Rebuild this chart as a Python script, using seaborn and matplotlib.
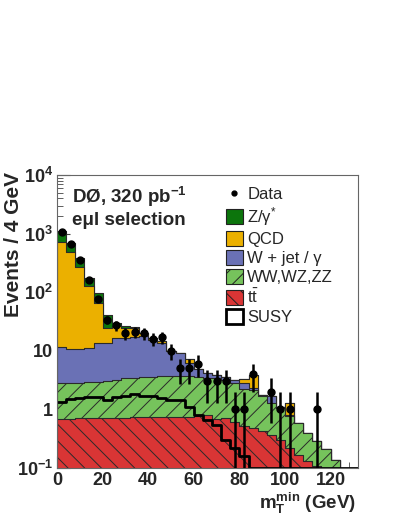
import numpy as np
import pandas as pd
import matplotlib
matplotlib.use('Agg')
import matplotlib.pyplot as plt
import seaborn as sns
from matplotlib.patches import Patch
from matplotlib.lines import Line2D
from matplotlib.ticker import FixedLocator, FixedFormatter, LogLocator, MultipleLocator, NullFormatter

# 4 GeV bins from 0 to 132 GeV
bin_edges = list(range(0, 136, 4))
centers = np.arange(2, 132, 4)

# background contributions per bin (events / 4 GeV)
ttbar = [0.68, 0.68, 0.70, 0.70, 0.70, 0.71, 0.72, 0.72, 0.73, 0.74, 0.75,
         0.75, 0.75, 0.75, 0.75, 0.76, 0.79, 0.68, 0.70, 0.62, 0.53, 0.48,
         0.43, 0.37, 0.30, 0.22, 0.17, 0.13, 0.11, 0.09, 0.07, 0.0, 0.0]
diboson = [2.12, 2.12, 2.15, 2.20, 2.27, 2.39, 2.46, 2.68, 2.77, 2.86, 2.85,
           2.95, 2.90, 2.90, 2.90, 2.84, 2.66, 2.72, 2.50, 2.24, 1.72, 1.66,
           1.29, 0.93, 0.75, 0.55, 0.41, 0.27, 0.18, 0.12, 0.065, 0.0, 0.0]
wjet = [8.9, 7.8, 8.05, 8.4, 10.4, 10.6, 13.1, 13.3, 13.9, 14.1, 11.4,
        10.0, 6.35, 5.45, 2.65, 1.3, 0.75, 0.5, 0.4, 0.29, 0.55, 0.16,
        0.06, 0.37, 0.03, 0.02, 0, 0, 0, 0, 0, 0, 0]
qcd = [708, 479, 261, 118, 52.6, 10.8, 10.2, 8.1, 6.9, 2.2, 1.5,
       1.2, 0, 0, 0.9, 0, 0, 0, 0, 0, 0.5, 1.6,
       0, 0, 0, 0.48, 0, 0, 0, 0, 0, 0, 0]
zgamma = [380, 190, 113, 43, 30, 16.5, 2.9, 2.0, 1.4, 0.4, 0.2,
          0, 0, 0, 0, 0, 0, 0, 0, 0, 0, 0,
          0, 0, 0, 0, 0, 0, 0, 0, 0, 0, 0]
susy = [1.33, 1.50, 1.55, 1.60, 1.60, 1.45, 1.60, 1.70, 1.80, 1.72, 1.66,
        1.58, 1.42, 1.42, 1.11, 0.80, 0.66, 0.54, 0.30, 0.22, 0.16, 0.1,
        0.1, 0.1, 0.1, 0.1, 0.1, 0.1, 0.1, 0.1, 0.1, 0.1, 0.1]
data = [1070, 660, 360, 160, 76, 34, 27, 20, 21, 20, 16,
        17, 10, 5, 5, 6, 3, 3, 3, 1, 1, 4,
        0, 2, 1, 1, 0, 0, 1, 0, 0, 0, 0]

layer_colors = ['#d93535', '#76c35c', '#6a71b5', '#ebb000', '#0c750c']
layer_hatches = ['\\\\', '//', '', '', '']

sns.set_theme(style='white')
plt.rcParams['font.family'] = ['Liberation Sans', 'DejaVu Sans']
plt.rcParams['mathtext.fontset'] = 'custom'
plt.rcParams['mathtext.rm'] = 'Liberation Sans'
plt.rcParams['mathtext.it'] = 'Liberation Sans:italic'
plt.rcParams['mathtext.bf'] = 'Liberation Sans:bold'
plt.rcParams['hatch.color'] = '#222222'
plt.rcParams['hatch.linewidth'] = 0.7

fig, ax = plt.subplots(figsize=(3.99, 5.16), dpi=100)
fig.subplots_adjust(left=0.143, right=0.897, bottom=0.093, top=0.661)
ax.set_yscale('log')

# stacked backgrounds: draw cumulative sums from the top layer down
stack = np.cumsum(np.array([ttbar, diboson, wjet, qcd, zgamma]), axis=0)
df = pd.DataFrame({'mt': centers})
for i in range(4, -1, -1):
    df['w'] = stack[i]
    sns.histplot(data=df, x='mt', weights='w', bins=bin_edges, element='step',
                 fill=True, color=layer_colors[i], alpha=1, edgecolor='#2a2a2a',
                 linewidth=0.8, ax=ax)
    if layer_hatches[i]:
        ax.collections[-1].set_hatch(layer_hatches[i])

# SUSY signal as an open histogram
df_s = pd.DataFrame({'mt': centers, 'w': susy})
sns.histplot(data=df_s, x='mt', weights='w', bins=bin_edges, element='step',
             fill=False, color='black', linewidth=2, ax=ax)

# data points
data = np.array(data, dtype=float)
has = data > 0
ax.errorbar(centers[has], data[has], yerr=np.sqrt(data[has]), fmt='o',
            color='black', ms=5, elinewidth=1.8, capsize=0, zorder=5)

ax.set_xlim(0, 132)
ax.set_ylim(0.1, 1e4)

# axes styling
ax.xaxis.set_major_locator(MultipleLocator(20))
ax.xaxis.set_minor_locator(MultipleLocator(4))
ax.yaxis.set_major_locator(FixedLocator([0.1, 1, 10, 100, 1000, 10000]))
ax.yaxis.set_major_formatter(FixedFormatter([r'$\mathbf{10^{-1}}$', '1', '10',
                                             r'$\mathbf{10^{2}}$', r'$\mathbf{10^{3}}$',
                                             r'$\mathbf{10^{4}}$']))
ax.yaxis.set_minor_locator(LogLocator(base=10, subs=np.arange(2, 10)))
ax.yaxis.set_minor_formatter(NullFormatter())
ax.tick_params(axis='both', which='both', direction='in', color='#444444')
ax.tick_params(axis='x', which='both', bottom=True, top=False)
ax.tick_params(axis='y', which='both', left=True, right=False)
ax.tick_params(which='major', length=9, width=0.8, labelsize=13, pad=3)
ax.tick_params(which='minor', length=4.5, width=0.6)
plt.setp(ax.get_xticklabels() + ax.get_yticklabels(), fontweight='bold')
for s in ax.spines.values():
    s.set_color('#666666')
    s.set_linewidth(0.8)

ax.set_xlabel(r'$\mathbf{m}_{\mathbf{T}}^{\mathbf{min}}$ (GeV)', fontsize=13.5,
              fontweight='bold', ha='right')
ax.xaxis.set_label_coords(0.995, -0.078)
ax.set_ylabel('Events / 4 GeV', fontsize=15, fontweight='bold', ha='right')
ax.yaxis.set_label_coords(-0.112, 1.01)

ax.text(0.049, 0.904, r'DØ, 320 pb$^{\mathbf{-1}}$', transform=ax.transAxes,
        fontsize=13.5, fontweight='bold', va='baseline')
ax.text(0.049, 0.829, 'eμl selection', transform=ax.transAxes,
        fontsize=13.5, fontweight='bold', va='baseline')

handles = [Line2D([], [], marker='o', ls='none', color='black', ms=3.5)]
for i in range(4, -1, -1):
    handles.append(Patch(facecolor=layer_colors[i], edgecolor='#222222', lw=0.8,
                         hatch=layer_hatches[i]))
handles.append(Patch(facecolor='white', edgecolor='black', lw=2))
labels = ['Data', 'Z/γ$^{*}$', 'QCD', 'W + jet / γ', 'WW,WZ,ZZ',
          r'$\mathrm{t\bar{t}}$', 'SUSY']
ax.legend(handles, labels, loc='upper left', bbox_to_anchor=(0.56, 0.962),
          frameon=False, fontsize=12, handlelength=1.05, handleheight=1.0,
          handletextpad=0.25, labelspacing=0.17, borderaxespad=0, borderpad=0)

fig.savefig('out.png', dpi=100, facecolor='white')
